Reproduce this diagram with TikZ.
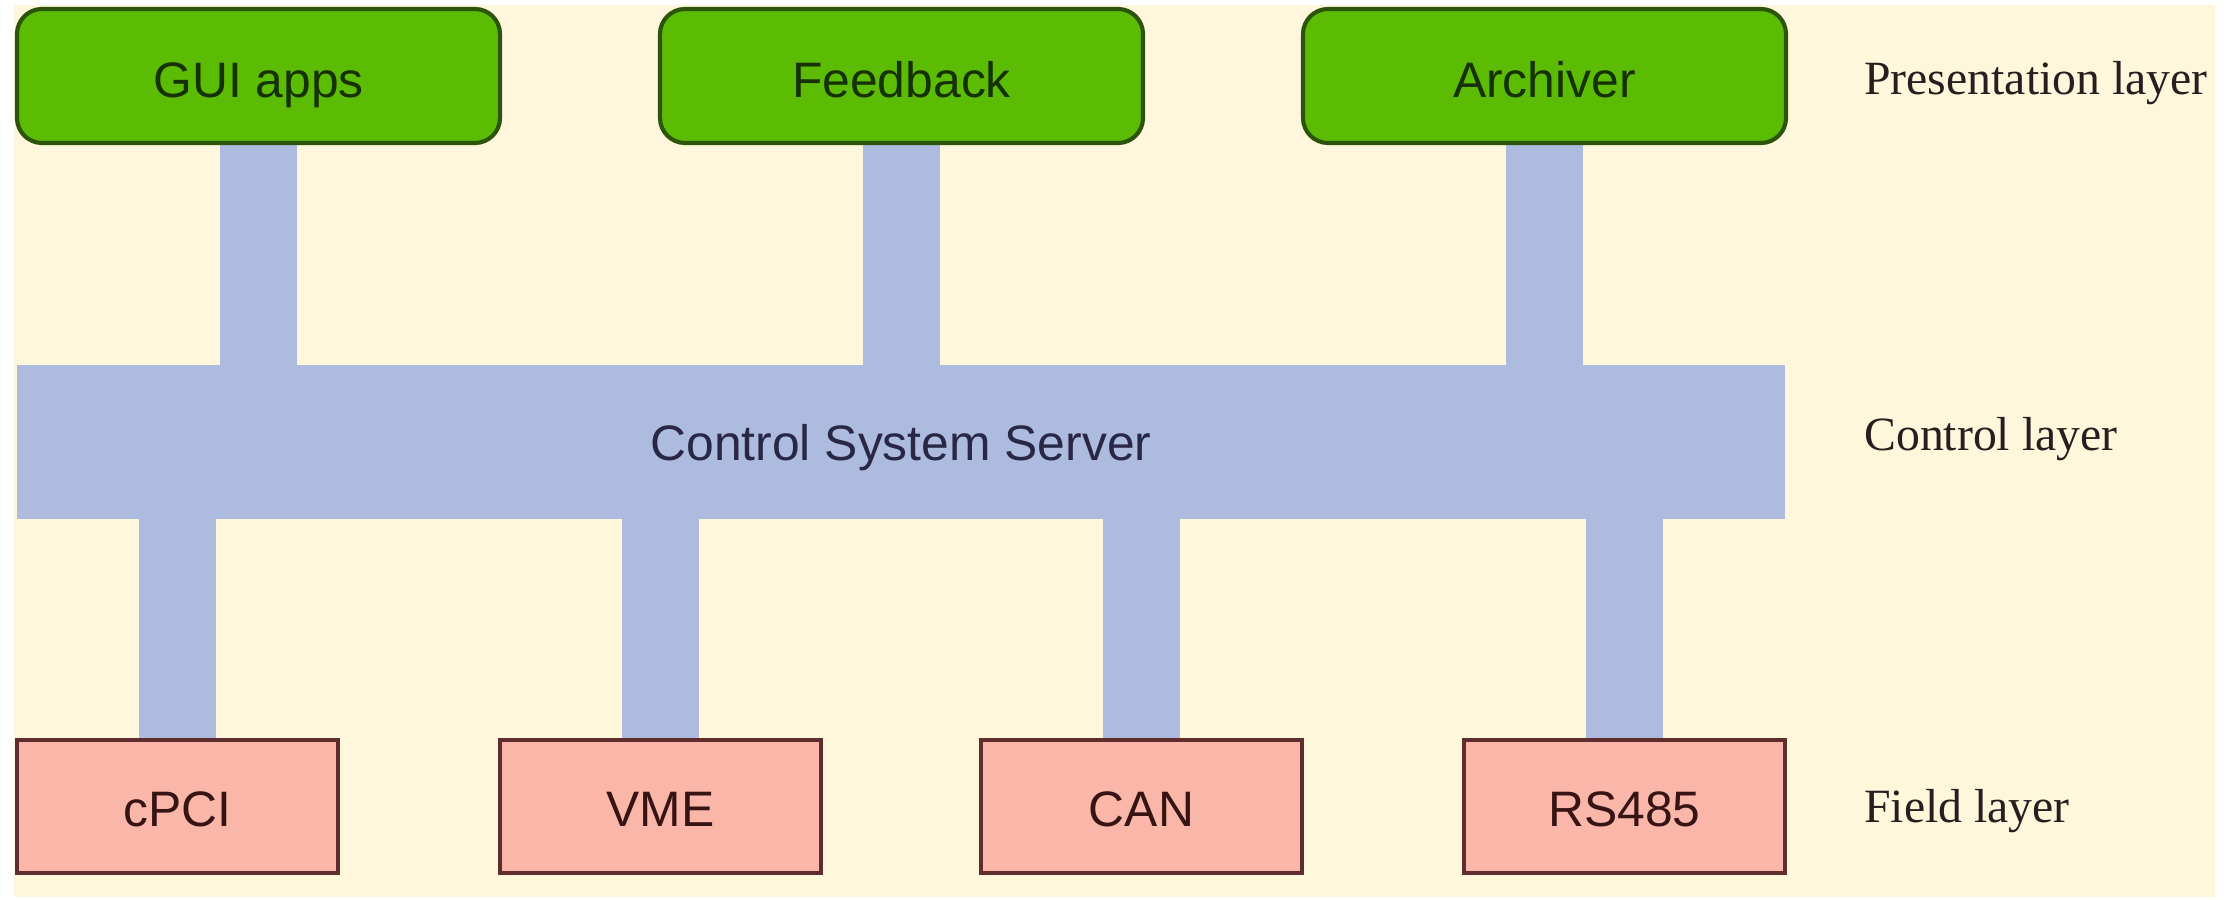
\documentclass[tikz,border=0pt]{standalone}
\usepackage{fontspec}
\setmainfont{Liberation Serif}
\setsansfont{Liberation Sans}
\usetikzlibrary{backgrounds}
\definecolor{Paper}{RGB}{255,247,220}
\definecolor{Gfill}{RGB}{92,188,4}
\definecolor{Gline}{RGB}{45,85,10}
\definecolor{Gtext}{RGB}{22,50,5}
\definecolor{Pfill}{RGB}{250,182,168}
\definecolor{Pline}{RGB}{95,45,45}
\definecolor{Ptext}{RGB}{55,20,20}
\definecolor{Bus}{RGB}{173,187,222}
\definecolor{Btext}{RGB}{40,40,70}
\definecolor{Ltext}{RGB}{40,30,30}

\begin{document}
\begin{tikzpicture}[x=1in,y=1in,
  appbox/.style={rectangle,rounded corners=0.25in,draw=Gline,line width=3pt,fill=Gfill,text=Gtext,minimum width=4.83in,minimum height=1.34in,inner sep=0pt,text height=31pt,text depth=0pt,font=\sffamily\fontsize{36}{40}\selectfont},
  fieldbox/.style={rectangle,draw=Pline,line width=2.5pt,fill=Pfill,text=Ptext,minimum width=3.21in,minimum height=1.33in,inner sep=0pt,text height=29pt,text depth=0pt,font=\sffamily\fontsize{36}{40}\selectfont},
  serverbar/.style={rectangle,fill=Bus,text=Btext,minimum width=17.68in,minimum height=1.54in,inner sep=0pt,text height=27pt,text depth=0pt,font=\sffamily\fontsize{36}{40}\selectfont},
  layer/.style={anchor=west,text=Ltext,inner sep=0pt,font=\fontsize{34.5}{40}\selectfont},
  bus/.style={draw=Bus,line width=0.77in}]
\path[use as bounding box] (0,0) rectangle (22.39,8.99);
% presentation layer
\node[appbox] (gui) at (2.585,8.23) {GUI apps};
\node[appbox] (feed) at (9.015,8.23) {Feedback};
\node[appbox] (arch) at (15.445,8.23) {Archiver};
% control layer
\node[serverbar] (srv) at (9.01,4.57) {Control System Server};
% field layer
\node[fieldbox] (cpci) at (1.775,0.925) {cPCI};
\node[fieldbox] (vme) at (6.605,0.925) {VME};
\node[fieldbox] (can) at (11.415,0.925) {CAN};
\node[fieldbox] (rs) at (16.245,0.925) {RS485};
% layer names
\node[layer] (lpres) at (18.64,8.16) {Presentation layer};
\node[layer] (lctrl) at (18.64,4.60) {Control layer};
\node[layer] (lfield) at (18.64,0.88) {Field layer};
\begin{scope}[on background layer]
\fill[Paper] (0.14,0.02) rectangle (22.15,8.94);
\foreach \n in {gui,feed,arch}
  \draw[bus] (\n.south) -- (\n.south |- srv.center);
\foreach \n in {cpci,vme,can,rs}
  \draw[bus] (\n.north) -- (\n.north |- srv.center);
\end{scope}
\end{tikzpicture}
\end{document}
